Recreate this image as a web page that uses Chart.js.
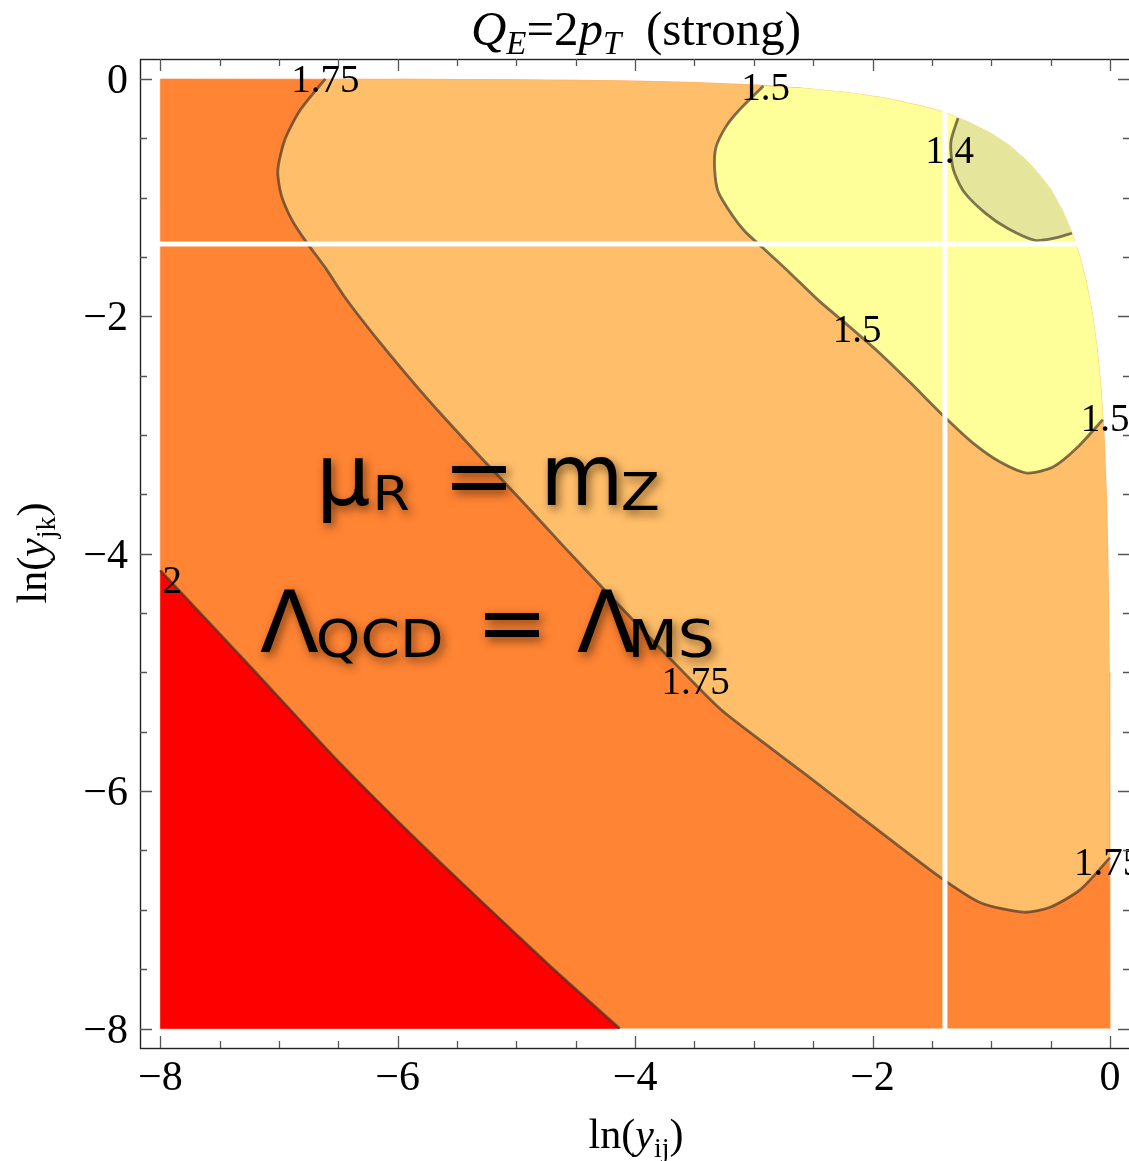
<!DOCTYPE html>
<html>
<head>
<meta charset="utf-8">
<title>Q_E = 2 pT (strong)</title>
<script src="https://cdn.jsdelivr.net/npm/chart.js@4.4.1/dist/chart.umd.min.js"></script>
<style>
  html, body { margin: 0; padding: 0; background: #fff; overflow: hidden; }
  #wrap { width: 1131px; height: 1161px; position: relative; }
</style>
</head>
<body>
<div id="wrap"><canvas id="plot"></canvas></div>
<script>
// contour levels, highest first
const levels = [2, 1.75, 1.5, 1.4];

// edge of the allowed region, top-left to bottom-right
const edgeX = [-8, -6, -5, -4.5, -4, -3.5, -3, -2.6, -2.2, -1.9, -1.6, -1.4, -1.2, -1.0, -0.85, -0.7, -0.6, -0.5, -0.4, -0.32, -0.25, -0.2, -0.15, -0.11, -0.08, -0.05, -0.03, -0.018, -0.011, -0.007, -0.002, 0];
const edgeY = [0, -0.002, -0.007, -0.011, -0.018, -0.03, -0.05, -0.077, -0.117, -0.16, -0.225, -0.28, -0.36, -0.46, -0.56, -0.69, -0.80, -0.93, -1.11, -1.30, -1.51, -1.71, -1.97, -2.26, -2.56, -3.0, -3.5, -4, -4.5, -5, -6, -8];

// contour 2
const c2X = [-8, -7.27, -6.51, -5.81, -4.72, -4.13];
const c2Y = [-4.14, -4.92, -5.74, -6.44, -7.47, -8];

// contour 1.75
const c175X = [-6.61, -6.82, -6.95, -7.01, -6.98, -6.89, -6.78, -6.61, -6.43, -6.15, -5.85, -5.62, -5.28, -4.94, -4.61, -4.28, -3.96, -3.62, -3.28, -2.92, -2.55, -2.16, -1.77, -1.41, -1.09, -0.73, -0.51, -0.25, 0];
const c175Y = [0, -0.26, -0.51, -0.77, -0.98, -1.19, -1.36, -1.59, -1.86, -2.22, -2.58, -2.84, -3.21, -3.57, -3.93, -4.28, -4.62, -4.97, -5.31, -5.59, -5.87, -6.17, -6.47, -6.74, -6.94, -7.02, -6.98, -6.83, -6.56];

// contour 1.5
const c15X = [-2.92, -3.13, -3.24, -3.32, -3.33, -3.30, -3.18, -3.07, -2.96, -2.70, -2.45, -2.19, -1.95, -1.68, -1.39, -1.15, -0.92, -0.70, -0.48, -0.28, -0.06];
const c15Y = [-0.06, -0.27, -0.41, -0.58, -0.76, -0.95, -1.15, -1.29, -1.39, -1.63, -1.87, -2.09, -2.30, -2.56, -2.85, -3.07, -3.23, -3.32, -3.27, -3.11, -2.87];

// contour 1.4
const c14X = [-1.28, -1.34, -1.32, -1.23, -1.05, -0.86, -0.63, -0.46, -0.32];
const c14Y = [-0.33, -0.53, -0.76, -0.95, -1.13, -1.26, -1.36, -1.34, -1.30];

// where the contour values are written
const labelLevel = [1.75, 1.5, 1.4, 1.5, 1.5, 2, 1.75, 1.75];
const labelX = [-6.61, -2.90, -1.35, -2.13, -0.04, -7.90, -3.49, -0.015];
const labelY = [0.0, -0.07, -0.60, -2.11, -2.86, -4.22, -5.07, -6.60];

// mesh seams at ln(1/4)
const seam = -1.39;

const majorTicks = [-8, -6, -4, -2, 0];
const minorTicks = [-8, -7.5, -7, -6.5, -6, -5.5, -5, -4.5, -4, -3.5, -3, -2.5, -2, -1.5, -1, -0.5, 0];

// band colours: above 2, 1.75-2, 1.5-1.75, 1.4-1.5, below 1.4
const bandColors = ["#ff0000", "#ff8433", "#ffbe69", "#ffff99", "#e5e59c"];
const lineColor = "rgba(70, 55, 40, 0.68)";
const serif = '"Liberation Serif", "Times New Roman", serif';
const sans = '"DejaVu Sans", sans-serif';

function pts(xs, ys) {
  return xs.map((x, i) => ({ x: x, y: ys[i] }));
}

// contour + the stretch of edge that closes it off
function region(cx, cy) {
  const x0 = cx[0];
  const y1 = cy[cy.length - 1];
  const back = pts(edgeX, edgeY).filter(p => p.x > x0 && p.y > y1).reverse();
  return pts(cx, cy).concat(back);
}

const domain = [{ x: -8, y: -8 }].concat(pts(edgeX, edgeY));
const redZone = pts(c2X, c2Y).concat([{ x: -8, y: -8 }]);

function band(data, color, order) {
  return {
    data: data, showLine: true, fill: "shape", tension: 0,
    backgroundColor: color, borderColor: color, borderWidth: 0.5,
    pointRadius: 0, order: order
  };
}
function contour(xs, ys) {
  return {
    data: pts(xs, ys), showLine: true, fill: false, tension: 0.25,
    borderColor: lineColor, borderWidth: 2.8, pointRadius: 0, order: 5
  };
}
function seamLine(data) {
  return {
    data: data, showLine: true, fill: false, borderColor: "#ffffff",
    borderWidth: 5, pointRadius: 0, order: 4
  };
}

function minus(v) {
  return v < 0 ? "\u2212" + Math.abs(v) : String(v);
}

function widthOf(ctx, parts) {
  let w = 0;
  parts.forEach(p => { ctx.font = p.f; w += ctx.measureText(p.t).width; });
  return w;
}
function drawParts(ctx, parts, cx, baseY) {
  let x = cx - widthOf(ctx, parts) / 2;
  parts.forEach(p => {
    ctx.font = p.f;
    ctx.fillText(p.t, x, baseY + (p.dy || 0));
    x += ctx.measureText(p.t).width;
  });
}

const decorations = {
  id: "decorations",
  afterDatasetsDraw(chart) {
    const ctx = chart.ctx;
    const xs = chart.scales.x, ys = chart.scales.y;
    const a = chart.chartArea;
    ctx.save();
    ctx.fillStyle = "#000";
    ctx.textAlign = "center";
    ctx.textBaseline = "alphabetic";

    // contour labels
    ctx.font = "39px " + serif;
    labelLevel.forEach((lv, i) => {
      ctx.fillText(String(lv), xs.getPixelForValue(labelX[i]), ys.getPixelForValue(labelY[i]) + 13);
    });

    // scale choice note, with a soft shadow
    ctx.save();
    ctx.textAlign = "left";
    ctx.shadowColor = "rgba(40,20,0,0.6)";
    ctx.shadowBlur = 10;
    ctx.shadowOffsetX = 3;
    ctx.shadowOffsetY = 4;
    const put = (t, size, left, base, wide) => {
      ctx.save();
      ctx.font = size + "px " + sans;
      const m = ctx.measureText(t);
      ctx.translate(left, base);
      ctx.scale(wide || 1, 1);
      ctx.fillText(t, m.actualBoundingBoxLeft, 0);
      ctx.restore();
    };
    const l1x = xs.getPixelForValue(-6.63), l1y = ys.getPixelForValue(-3.59);
    put("\u03bc", 86, l1x, l1y);
    put("R", 48, l1x + 54, l1y + 5, 1.12);
    put("=", 86, l1x + 129, l1y);
    put("m", 86, l1x + 224, l1y);
    put("Z", 52, l1x + 300, l1y + 5, 1.1);
    const l2x = xs.getPixelForValue(-7.16), l2y = ys.getPixelForValue(-4.83);
    put("\u039b", 86, l2x, l2y);
    put("QCD", 52, l2x + 58, l2y + 5, 1.09);
    put("=", 86, l2x + 225, l2y);
    put("\u039b", 86, l2x + 317, l2y);
    put("MS", 52, l2x + 373, l2y + 5, 1.12);
    ctx.restore();

    // frame
    ctx.strokeStyle = "#222";
    ctx.lineWidth = 1.4;
    ctx.strokeRect(a.left + 0.5, a.top + 0.5, a.right - a.left, a.bottom - a.top);

    // inward ticks on all four sides
    ctx.strokeStyle = "#555";
    ctx.lineWidth = 1.3;
    ctx.beginPath();
    minorTicks.forEach(v => {
      const len = majorTicks.includes(v) ? 12 : 7;
      const px = Math.round(xs.getPixelForValue(v)) + 0.5;
      ctx.moveTo(px, a.bottom); ctx.lineTo(px, a.bottom - len);
      ctx.moveTo(px, a.top); ctx.lineTo(px, a.top + len);
      const py = Math.round(ys.getPixelForValue(v)) + 0.5;
      ctx.moveTo(a.left, py); ctx.lineTo(a.left + len, py);
      ctx.moveTo(a.right, py); ctx.lineTo(a.right - len, py);
    });
    ctx.stroke();

    // tick labels
    ctx.font = "42px " + serif;
    ctx.textAlign = "center";
    majorTicks.forEach(v => {
      ctx.fillText(minus(v), xs.getPixelForValue(v), a.bottom + 42);
    });
    ctx.textAlign = "right";
    majorTicks.forEach(v => {
      ctx.fillText(minus(v), a.left - 12, ys.getPixelForValue(v) + 14);
    });

    // title
    ctx.textAlign = "left";
    drawParts(ctx, [
      { t: "Q", f: "italic 49px " + serif },
      { t: "E", f: "italic 33px " + serif, dy: 9 },
      { t: "=2", f: "49px " + serif },
      { t: "p", f: "italic 49px " + serif },
      { t: "T", f: "italic 33px " + serif, dy: 9 },
      { t: "\u2002(strong)", f: "49px " + serif }
    ], 636, 45);

    // axis titles
    drawParts(ctx, [
      { t: "ln(", f: "42px " + serif },
      { t: "y", f: "italic 42px " + serif },
      { t: "ij", f: "28px " + serif, dy: 9 },
      { t: ")", f: "42px " + serif }
    ], 636, 1148);
    ctx.save();
    ctx.translate(46, 553);
    ctx.rotate(-Math.PI / 2);
    drawParts(ctx, [
      { t: "ln(", f: "42px " + serif },
      { t: "y", f: "italic 42px " + serif },
      { t: "jk", f: "28px " + serif, dy: 9 },
      { t: ")", f: "42px " + serif }
    ], 0, 0);
    ctx.restore();
    ctx.restore();
  }
};

new Chart(document.getElementById("plot"), {
  type: "scatter",
  data: {
    datasets: [
      band(domain, bandColors[1], 10),
      band(region(c175X, c175Y), bandColors[2], 9),
      band(region(c15X, c15Y), bandColors[3], 8),
      band(region(c14X, c14Y), bandColors[4], 7),
      band(redZone, bandColors[0], 6),
      contour(c2X, c2Y),
      contour(c175X, c175Y),
      contour(c15X, c15Y),
      contour(c14X, c14Y),
      seamLine([{ x: seam, y: -8.05 }, { x: seam, y: 0.05 }]),
      seamLine([{ x: -8.05, y: seam }, { x: 0.05, y: seam }])
    ]
  },
  options: {
    responsive: true,
    maintainAspectRatio: false,
    animation: false,
    layout: { padding: { left: 140, top: 59, right: 1, bottom: 113 } },
    scales: {
      x: { type: "linear", min: -8.171, max: 0.169, display: false },
      y: { type: "linear", min: -8.164, max: 0.168, display: false }
    },
    plugins: {
      legend: { display: false },
      tooltip: { enabled: false }
    }
  },
  plugins: [decorations]
});
</script>
</body>
</html>
